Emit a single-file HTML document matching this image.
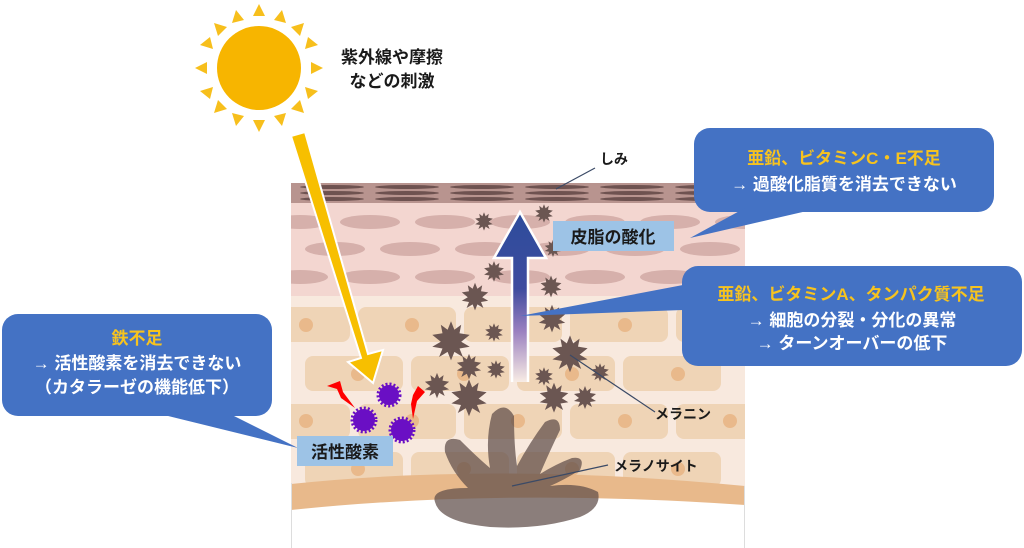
<!DOCTYPE html>
<html><head><meta charset="utf-8"><style>
html,body{margin:0;padding:0;background:#fff;}
svg{display:block;}
text{font-family:"Liberation Sans","Noto Sans CJK JP",sans-serif;font-weight:bold;}
</style></head><body>
<svg width="1024" height="548" viewBox="0 0 1024 548" xmlns="http://www.w3.org/2000/svg">
<defs>
<polygon id="st" points="0,-11 2,-6 6,-9 5,-4 11,-3 6,1 11,4 5,5 7,10 2,7 0,12 -2,7 -7,10 -5,5 -11,4 -6,1 -11,-3 -5,-4 -6,-9 -2,-6" fill="#6b5652"/>
<linearGradient id="ag" x1="0" y1="0" x2="0" y2="1">
<stop offset="0" stop-color="#2d4c9c"/><stop offset="0.45" stop-color="#3e4b9e"/><stop offset="0.7" stop-color="#9a80c0"/><stop offset="1" stop-color="#f8ece4"/></linearGradient>
<clipPath id="sk"><rect x="291" y="183" width="454" height="365"/></clipPath>
</defs>
<g clip-path="url(#sk)">
<rect x="291" y="183" width="454" height="365" fill="#fff"/>
<rect x="291" y="183" width="454" height="20" fill="#b8948f"/>
<g fill="#6e5250">
<ellipse cx="332" cy="187" rx="32" ry="2"/><ellipse cx="407" cy="187" rx="32" ry="2"/><ellipse cx="482" cy="187" rx="32" ry="2"/><ellipse cx="557" cy="187" rx="32" ry="2"/><ellipse cx="632" cy="187" rx="32" ry="2"/><ellipse cx="707" cy="187" rx="32" ry="2"/>
<ellipse cx="332" cy="193" rx="32" ry="2"/><ellipse cx="407" cy="193" rx="32" ry="2"/><ellipse cx="482" cy="193" rx="32" ry="2"/><ellipse cx="557" cy="193" rx="32" ry="2"/><ellipse cx="632" cy="193" rx="32" ry="2"/><ellipse cx="707" cy="193" rx="32" ry="2"/>
<ellipse cx="332" cy="199" rx="32" ry="2"/><ellipse cx="407" cy="199" rx="32" ry="2"/><ellipse cx="482" cy="199" rx="32" ry="2"/><ellipse cx="557" cy="199" rx="32" ry="2"/><ellipse cx="632" cy="199" rx="32" ry="2"/><ellipse cx="707" cy="199" rx="32" ry="2"/>
</g>
<rect x="291" y="203" width="454" height="93" fill="#f3d6d0"/>
<g fill="#d6b0ab">
<ellipse cx="300" cy="222" rx="28" ry="7"/><ellipse cx="370" cy="222" rx="30" ry="7"/><ellipse cx="445" cy="222" rx="30" ry="7"/><ellipse cx="520" cy="222" rx="30" ry="7"/><ellipse cx="595" cy="222" rx="30" ry="7"/><ellipse cx="670" cy="222" rx="30" ry="7"/><ellipse cx="745" cy="222" rx="30" ry="7"/>
<ellipse cx="335" cy="249" rx="30" ry="7"/><ellipse cx="410" cy="249" rx="30" ry="7"/><ellipse cx="485" cy="249" rx="30" ry="7"/><ellipse cx="560" cy="249" rx="30" ry="7"/><ellipse cx="635" cy="249" rx="30" ry="7"/><ellipse cx="710" cy="249" rx="30" ry="7"/>
<ellipse cx="300" cy="277" rx="28" ry="7"/><ellipse cx="370" cy="277" rx="30" ry="7"/><ellipse cx="445" cy="277" rx="30" ry="7"/><ellipse cx="520" cy="277" rx="30" ry="7"/><ellipse cx="595" cy="277" rx="30" ry="7"/><ellipse cx="670" cy="277" rx="30" ry="7"/><ellipse cx="745" cy="277" rx="30" ry="7"/>
</g>
<rect x="291" y="296" width="454" height="252" fill="#f8e9de"/>
<g fill="#efd4b6">
<rect x="250" y="307" width="100" height="35" rx="8"/><rect x="358" y="307" width="98" height="35" rx="8"/><rect x="464" y="307" width="98" height="35" rx="8"/><rect x="570" y="307" width="98" height="35" rx="8"/><rect x="676" y="307" width="98" height="35" rx="8"/>
<rect x="305" y="356" width="98" height="35" rx="8"/><rect x="411" y="356" width="98" height="35" rx="8"/><rect x="517" y="356" width="98" height="35" rx="8"/><rect x="623" y="356" width="98" height="35" rx="8"/>
<rect x="250" y="404" width="100" height="35" rx="8"/><rect x="358" y="404" width="98" height="35" rx="8"/><rect x="464" y="404" width="98" height="35" rx="8"/><rect x="570" y="404" width="98" height="35" rx="8"/><rect x="676" y="404" width="98" height="35" rx="8"/>
<rect x="305" y="452" width="98" height="35" rx="8"/><rect x="411" y="452" width="98" height="35" rx="8"/><rect x="517" y="452" width="98" height="35" rx="8"/><rect x="623" y="452" width="98" height="35" rx="8"/>
</g>
<g fill="#e9b98b">
<circle cx="306" cy="325" r="7"/><circle cx="412" cy="325" r="7"/><circle cx="518" cy="325" r="7"/><circle cx="625" cy="325" r="7"/><circle cx="730" cy="325" r="7"/>
<circle cx="358" cy="374" r="7"/><circle cx="464" cy="374" r="7"/><circle cx="572" cy="374" r="7"/><circle cx="678" cy="374" r="7"/>
<circle cx="306" cy="421" r="7"/><circle cx="412" cy="421" r="7"/><circle cx="518" cy="421" r="7"/><circle cx="625" cy="421" r="7"/><circle cx="730" cy="421" r="7"/>
<circle cx="358" cy="469" r="7"/><circle cx="464" cy="469" r="7"/><circle cx="572" cy="469" r="7"/><circle cx="678" cy="469" r="7"/>
</g>
<path d="M291 484 Q500 462 745 486 L745 548 L291 548 Z" fill="#e8b98b"/>
<path d="M291 510 Q500 488 745 505 L745 548 L291 548 Z" fill="#fff"/>
<rect x="291" y="483" width="1" height="65" fill="#ddd"/><rect x="744" y="486" width="1" height="62" fill="#ddd"/>
</g>
<path d="M435 502 Q430 488 468 488 Q452 472 445 452 Q443 435 460 440 Q478 458 490 468 Q485 440 492 414 Q505 400 514 416 Q514 446 517 466 Q530 442 545 422 Q560 414 560 430 Q548 455 540 474 Q556 464 572 458 Q586 456 580 470 Q564 480 550 486 Q580 482 598 492 Q602 508 580 517 Q540 530 490 527 Q440 522 435 502 Z" fill="#5e4c48" opacity="0.72"/>
<g>
<use href="#st" transform="translate(484,221) scale(0.8)"/><use href="#st" transform="translate(544,213) scale(0.8)"/><use href="#st" transform="translate(553,248) scale(0.75)"/>
<use href="#st" transform="translate(494,271) scale(0.9)"/><use href="#st" transform="translate(551,286) scale(0.95)"/><use href="#st" transform="translate(475,296) scale(1.2)"/>
<use href="#st" transform="translate(552,318) scale(1.2)"/><use href="#st" transform="translate(494,332) scale(0.8)"/><use href="#st" transform="translate(451,340) scale(1.7)"/>
<use href="#st" transform="translate(570,353) scale(1.6)"/><use href="#st" transform="translate(469,366) scale(1.1)"/><use href="#st" transform="translate(496,369) scale(0.8)"/>
<use href="#st" transform="translate(544,376) scale(0.8)"/><use href="#st" transform="translate(600,372) scale(0.8)"/><use href="#st" transform="translate(437,385) scale(1.1)"/>
<use href="#st" transform="translate(469,397) scale(1.6)"/><use href="#st" transform="translate(554,397) scale(1.3)"/><use href="#st" transform="translate(585,397) scale(1.0)"/>
</g>
<path d="M512 382 L512 258 L494 258 L520 212 L546 258 L528 258 L528 382" fill="url(#ag)" stroke="#fff" stroke-width="2.5"/>
<g fill="#f7bf1c">
<circle cx="259" cy="68" r="42" fill="#f7b500"/>
<polygon points="259,4 253,16 265,16"/><polygon points="259,132 253,120 265,120"/>
<polygon points="195,68 207,62 207,74"/><polygon points="323,68 311,62 311,74"/>
<polygon points="214,23 218,36 227,27"/><polygon points="304,113 291,109 300,100"/>
<polygon points="304,23 291,27 300,36"/><polygon points="214,113 227,109 218,100"/>
<polygon points="236,10 232,23 244,20"/><polygon points="282,126 286,113 274,116"/>
<polygon points="200,45 213,49 210,37"/><polygon points="318,91 305,87 308,99"/>
<polygon points="282,10 274,20 286,23"/><polygon points="236,126 244,116 232,113"/>
<polygon points="318,45 308,37 305,49"/><polygon points="200,91 210,99 213,87"/>
</g>
<path d="M291 136 L305 132 L368 354 L383 350 L373 383 L348 362 L361 358 Z" fill="#f7bf00" stroke="#fff" stroke-width="2"/>
<g fill="#6a0fc4">
<circle cx="389" cy="395" r="10"/><circle cx="364" cy="420" r="11"/><circle cx="402" cy="430" r="11"/>
</g>
<g fill="none" stroke="#6a0fc4" stroke-width="3" stroke-dasharray="2 2">
<circle cx="389" cy="395" r="11"/><circle cx="364" cy="420" r="12"/><circle cx="402" cy="430" r="12"/>
</g>
<polygon points="327,386 340,381 343,392 355,408 341,398 337,389" fill="#f00"/>
<polygon points="418,386 425,392 417,401 413,419 411,404 413,395" fill="#f00"/>
<g stroke="#3b4a66" stroke-width="1.2">
<line x1="556" y1="189" x2="595" y2="168"/>
<line x1="570" y1="355" x2="655" y2="412"/>
<line x1="512" y1="486" x2="608" y2="465"/>
</g>
<g fill="#4472c4">
<rect x="2" y="314" width="270" height="102" rx="16"/><polygon points="160,414 230,414 298,448"/>
<rect x="694" y="128" width="300" height="84" rx="16"/><polygon points="745,208 820,208 690,238"/>
<rect x="682" y="266" width="340" height="100" rx="16"/><polygon points="683,285 683,310 520,316"/>
</g>
<rect x="297" y="436" width="96" height="30" fill="#9dc3e6"/>
<rect x="553" y="221" width="121" height="30" fill="#9dc3e6"/>
<g font-size="17" fill="#1a1a1a">
<text x="345" y="458" text-anchor="middle">活性酸素</text>
<text x="613" y="243" text-anchor="middle">皮脂の酸化</text>
</g>
<g fill="#1a1a1a">
<text x="392" y="63" text-anchor="middle" font-size="17">紫外線や摩擦</text>
<text x="392" y="87" text-anchor="middle" font-size="17">などの刺激</text>
<text x="600" y="164" font-size="14">しみ</text>
<text x="655" y="419" font-size="14">メラニン</text>
<text x="614" y="471" font-size="14">メラノサイト</text>
</g>
<g font-size="17" text-anchor="middle">
<text x="137" y="344" fill="#f7c31e">鉄不足</text>
<text x="137" y="369" fill="#fff">→ 活性酸素を消去できない</text>
<text x="137" y="393" fill="#fff">（カタラーゼの機能低下）</text>
<text x="844" y="164" fill="#f7c31e">亜鉛、ビタミンC・E不足</text>
<text x="844" y="190" fill="#fff">→ 過酸化脂質を消去できない</text>
<text x="851" y="300" fill="#f7c31e">亜鉛、ビタミンA、タンパク質不足</text>
<text x="852" y="326" fill="#fff">→  細胞の分裂・分化の異常</text>
<text x="852" y="349" fill="#fff">→     ターンオーバーの低下</text>
</g>
</svg>
</body></html>
